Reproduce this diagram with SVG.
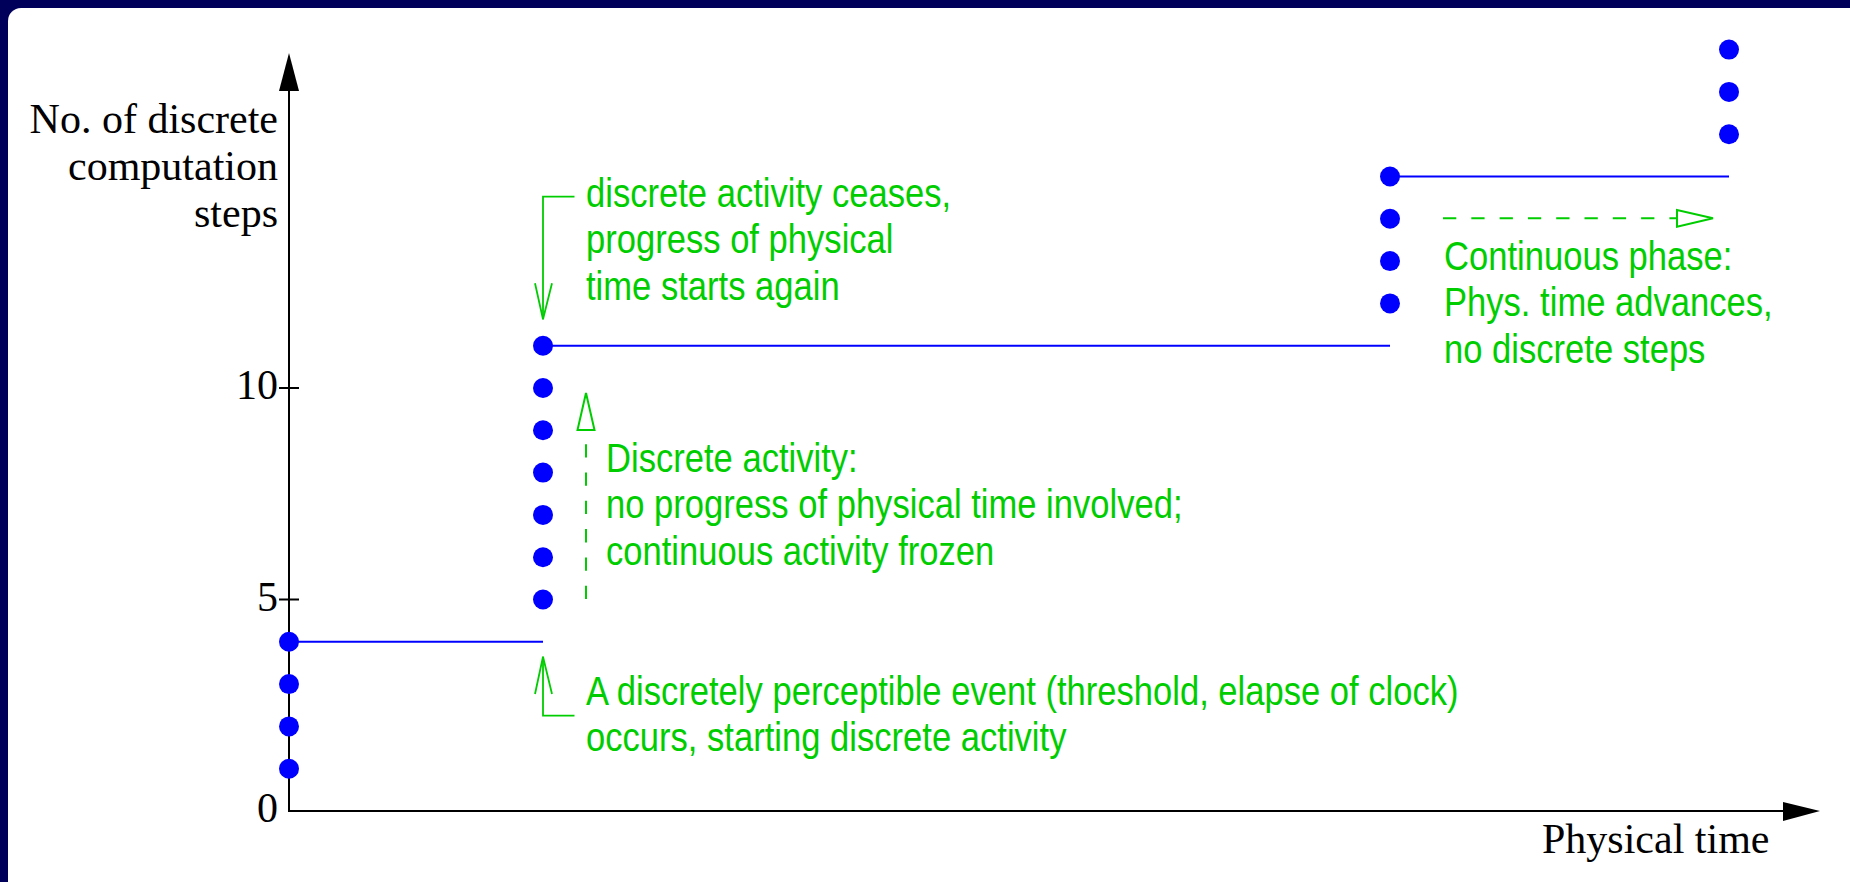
<svg xmlns="http://www.w3.org/2000/svg" width="1850" height="882" viewBox="0 0 1850 882">
  <defs>
    <style>
      .axis { stroke: #000; stroke-width: 2; fill: none; }
      .axis-head { fill: #000; stroke: none; }
      .step { stroke: #0000ff; stroke-width: 2; fill: none; }
      .dot { fill: #0000ff; }
      .note { fill: #00cd00; font-family: "Liberation Sans", Arial, sans-serif; font-size: 40px; }
      .lead { stroke: #00cd00; stroke-width: 1.8; fill: none; }
      .dash { stroke: #00cd00; stroke-width: 2; fill: none; stroke-dasharray: 13.3 15; }
      .hollow { stroke: #00cd00; stroke-width: 2; fill: #fff; }
      .label { fill: #000; font-family: "Liberation Serif", "Times New Roman", serif; font-size: 42px; }
    </style>
  </defs>

  <!-- frame -->
  <rect x="0" y="0" width="1850" height="882" fill="#00005a"/>
  <rect x="8" y="8" width="1870" height="900" rx="13" ry="13" fill="#fff"/>

  <!-- axes -->
  <g id="axes">
    <line class="axis" x1="289" y1="811" x2="289" y2="90"/>
    <polygon class="axis-head" points="289,53 279,91 299,91"/>
    <line class="axis" x1="288" y1="811" x2="1784" y2="811"/>
    <polygon class="axis-head" points="1820,811 1783,802 1783,821"/>
    <line class="axis" x1="279" y1="388" x2="299" y2="388"/>
    <line class="axis" x1="279" y1="599.5" x2="299" y2="599.5"/>
    <text class="label" text-anchor="end" x="278" y="399">10</text>
    <text class="label" text-anchor="end" x="278" y="610.5">5</text>
    <text class="label" text-anchor="end" x="278" y="822">0</text>
    <text class="label" text-anchor="end" x="278" y="133">No. of discrete</text>
    <text class="label" text-anchor="end" x="278" y="179.5">computation</text>
    <text class="label" text-anchor="end" x="278" y="226.5">steps</text>
    <text class="label" x="1542" y="853">Physical time</text>
  </g>

  <!-- step curve: horizontal runs and discrete steps -->
  <g id="steps">
    <line class="step" x1="289" y1="641.8" x2="543" y2="641.8"/>
    <line class="step" x1="543" y1="345.7" x2="1390" y2="345.7"/>
    <line class="step" x1="1390" y1="176.5" x2="1729" y2="176.5"/>
  </g>
  <g id="dots-phase1">
    <circle class="dot" cx="289" cy="768.7" r="10"/>
    <circle class="dot" cx="289" cy="726.4" r="10"/>
    <circle class="dot" cx="289" cy="684.1" r="10"/>
    <circle class="dot" cx="289" cy="641.8" r="10"/>
  </g>
  <g id="dots-phase2">
    <circle class="dot" cx="543" cy="599.5" r="10"/>
    <circle class="dot" cx="543" cy="557.2" r="10"/>
    <circle class="dot" cx="543" cy="514.9" r="10"/>
    <circle class="dot" cx="543" cy="472.6" r="10"/>
    <circle class="dot" cx="543" cy="430.3" r="10"/>
    <circle class="dot" cx="543" cy="388" r="10"/>
    <circle class="dot" cx="543" cy="345.7" r="10"/>
  </g>
  <g id="dots-phase3">
    <circle class="dot" cx="1390" cy="303.4" r="10"/>
    <circle class="dot" cx="1390" cy="261.1" r="10"/>
    <circle class="dot" cx="1390" cy="218.8" r="10"/>
    <circle class="dot" cx="1390" cy="176.5" r="10"/>
  </g>
  <g id="dots-phase4">
    <circle class="dot" cx="1729" cy="134.2" r="10"/>
    <circle class="dot" cx="1729" cy="91.9" r="10"/>
    <circle class="dot" cx="1729" cy="49.6" r="10"/>
  </g>

  <!-- annotation connectors -->
  <g id="connectors">
    <path class="lead" d="M574.5 196.7 H543 V319.3"/>
    <path class="lead" d="M535 283.3 L543 319.3 L552 283.3"/>
    <path class="lead" d="M574.5 715.7 H543 V656.7"/>
    <path class="lead" d="M535 694 L543 656.7 L552 694"/>
    <path class="dash" d="M586 599 V430"/>
    <polygon class="hollow" points="586,393 577.5,430 594.5,430"/>
    <path class="dash" d="M1443 218.3 H1677"/>
    <polygon class="hollow" points="1713,218.3 1677,210 1677,226.7"/>
  </g>

  <!-- annotations -->
  <g id="note-ceases">
    <text class="note" transform="translate(586 206.7) scale(0.865 1)">
      <tspan x="0" y="0">discrete activity ceases,</tspan>
      <tspan x="0" y="46.7">progress of physical</tspan>
      <tspan x="0" y="93.3">time starts again</tspan>
    </text>
  </g>
  <g id="note-discrete">
    <text class="note" transform="translate(606 471.7) scale(0.865 1)">
      <tspan x="0" y="0">Discrete activity:</tspan>
      <tspan x="0" y="46.7">no progress of physical time involved;</tspan>
      <tspan x="0" y="93.3">continuous activity frozen</tspan>
    </text>
  </g>
  <g id="note-continuous">
    <text class="note" transform="translate(1444 269.5) scale(0.865 1)">
      <tspan x="0" y="0">Continuous phase:</tspan>
      <tspan x="0" y="46.7">Phys. time advances,</tspan>
      <tspan x="0" y="93.3">no discrete steps</tspan>
    </text>
  </g>
  <g id="note-event">
    <text class="note" transform="translate(586 705) scale(0.865 1)">
      <tspan x="0" y="0">A discretely perceptible event (threshold, elapse of clock)</tspan>
      <tspan x="0" y="46">occurs, starting discrete activity</tspan>
    </text>
  </g>
</svg>
